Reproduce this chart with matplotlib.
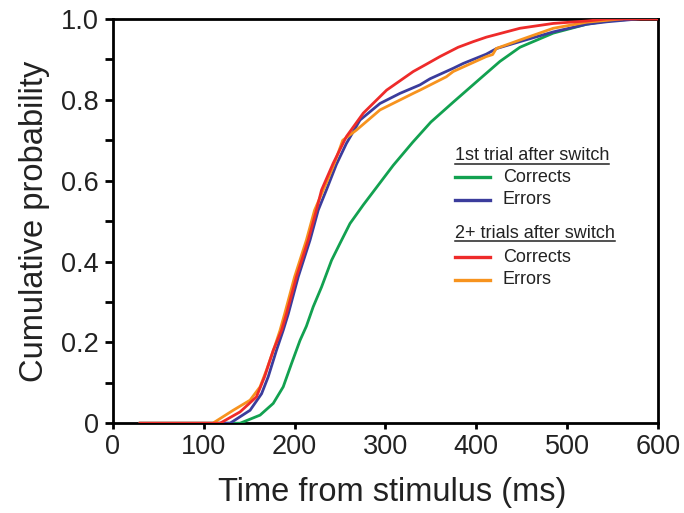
import matplotlib
matplotlib.use("Agg")
import matplotlib.pyplot as plt
from matplotlib.lines import Line2D

plt.rcParams['font.family'] = ['Liberation Sans', 'DejaVu Sans']

# 1st trial after switch - Corrects (green)
t_first_correct = [30, 140, 162, 176.5, 187.5, 196.7, 206, 213, 220.5, 229.7, 240.7, 250, 261, 275.6,
                   288.4, 295.8, 308.6, 330, 350, 375, 404, 426, 448, 484.7, 521.5, 543.5, 575]
p_first_correct = [0, 0, 0.02, 0.049, 0.09, 0.148, 0.205, 0.24, 0.288, 0.337, 0.403, 0.445, 0.494, 0.540,
                   0.578, 0.600, 0.638, 0.695, 0.745, 0.795, 0.852, 0.895, 0.930, 0.965, 0.987, 0.995, 1.0]

# 1st trial after switch - Errors (blue)
t_first_error = [30, 129, 151, 163.7, 171, 180, 187.5, 193, 204, 217, 226, 235, 246, 257, 272, 294, 316,
                 338, 349, 374.6, 385.6, 411, 422.4, 448, 484.7, 521.5, 543.5, 578]
p_first_error = [0, 0, 0.032, 0.073, 0.115, 0.18, 0.23, 0.27, 0.362, 0.453, 0.527, 0.577, 0.64, 0.692, 0.75,
                 0.791, 0.816, 0.837, 0.852, 0.878, 0.89, 0.913, 0.927, 0.944, 0.968, 0.987, 0.993, 1.0]

# 2+ trials after switch - Corrects (red)
t_later_correct = [30, 118, 140, 158, 167, 176.5, 185.7, 191, 202, 215, 224, 229.7, 242.5, 257, 275.6,
                   301.3, 330.6, 345, 360, 380, 396.7, 411, 448, 484.7, 521.5, 543.5, 600]
p_later_correct = [0, 0, 0.028, 0.065, 0.115, 0.18, 0.23, 0.27, 0.362, 0.453, 0.527, 0.577, 0.643, 0.709,
                   0.767, 0.824, 0.870, 0.888, 0.907, 0.930, 0.944, 0.955, 0.977, 0.989, 0.995, 1.0, 1.0]

# 2+ trials after switch - Errors (orange)
t_later_error = [30, 110, 132.4, 151, 162, 169, 178, 184, 189, 200, 213, 222, 236, 245, 253, 268, 294,
                 330.6, 338, 367, 374.6, 411, 418, 422, 448, 484.7, 521.5, 550, 560]
p_later_error = [0, 0, 0.032, 0.057, 0.09, 0.131, 0.189, 0.23, 0.27, 0.362, 0.453, 0.527, 0.60, 0.65, 0.70,
                 0.725, 0.775, 0.816, 0.824, 0.857, 0.870, 0.907, 0.912, 0.927, 0.948, 0.977, 0.992, 0.998, 1.0]

x_ticks = [0, 100, 200, 300, 400, 500, 600]
y_ticks = [0, 0.2, 0.4, 0.6, 0.8, 1.0]
y_tick_labels = ['0', '0.2', '0.4', '0.6', '0.8', '1.0']

c_green = '#12a150'
c_blue = '#3b3c9c'
c_red = '#ee2b2a'
c_orange = '#f7931e'

fig = plt.figure(figsize=(6.84, 5.13), dpi=100)
ax = fig.add_axes([0.165, 0.175, 0.797, 0.788])

lw = 2.0
ax.plot(t_first_correct, p_first_correct, color=c_green, lw=lw, zorder=3)
ax.plot(t_first_error, p_first_error, color=c_blue, lw=lw, zorder=3)
ax.plot(t_later_error, p_later_error, color=c_orange, lw=lw, zorder=4)
ax.plot(t_later_correct, p_later_correct, color=c_red, lw=lw, zorder=5)

ax.set_xlim(0, 600)
ax.set_ylim(0, 1.0)
ax.set_xticks(x_ticks)
ax.set_xticklabels([str(v) for v in x_ticks])
ax.set_yticks(y_ticks)
ax.set_yticklabels(y_tick_labels)
ax.set_yticks([0.1, 0.3, 0.5, 0.7, 0.9], minor=True)

for s in ax.spines.values():
    s.set_linewidth(2.0)
    s.set_color('black')

ax.tick_params(axis='y', which='both', direction='out', length=6, width=2.0, labelsize=19.5, pad=4,
               labelcolor='#222222')
ax.tick_params(axis='x', which='both', direction='out', length=4, width=2.0, labelsize=19.5, pad=4,
               labelcolor='#222222')

ax.set_xlabel('Time from stimulus (ms)', fontsize=23.5, labelpad=12, color='#222222')
ax.set_ylabel('Cumulative probability', fontsize=23.5, labelpad=8, color='#222222')
fig.canvas.draw()
xl_y = ax.transAxes.inverted().transform(ax.xaxis.label.get_window_extent().get_points().mean(axis=0))[1]
ax.xaxis.set_label_coords(0.512, xl_y)
ax.xaxis.label.set_va('center')

# Custom legend
fs_leg = 13
entries = [
    ('title', '1st trial after switch', None, 156),
    ('line', 'Corrects', c_green, 177),
    ('line', 'Errors', c_blue, 200),
    ('title', '2+ trials after switch', None, 233),
    ('line', 'Corrects', c_red, 257),
    ('line', 'Errors', c_orange, 280),
]
renderer = fig.canvas.get_renderer()
inv = fig.transFigure.inverted()
for kind, label, col, ypx in entries:
    yf = 1 - ypx / 513.0
    if kind == 'title':
        t = fig.text(455 / 684.0, yf, label, fontsize=fs_leg, va='center', ha='left', color='#222222')
        bb = t.get_window_extent(renderer=renderer)
        (x0, y0), (x1, y1) = inv.transform([(bb.x0, bb.y0), (bb.x1, bb.y1)])
        fig.add_artist(Line2D([x0, x1], [y0 + 0.001, y0 + 0.001], transform=fig.transFigure,
                              color='#222222', lw=1.1))
    else:
        fig.add_artist(Line2D([455 / 684.0, 490 / 684.0], [yf, yf], transform=fig.transFigure,
                              color=col, lw=2.4))
        fig.text(503 / 684.0, yf, label, fontsize=fs_leg, va='center', ha='left', color='#222222')

fig.savefig('out.png', dpi=100)
